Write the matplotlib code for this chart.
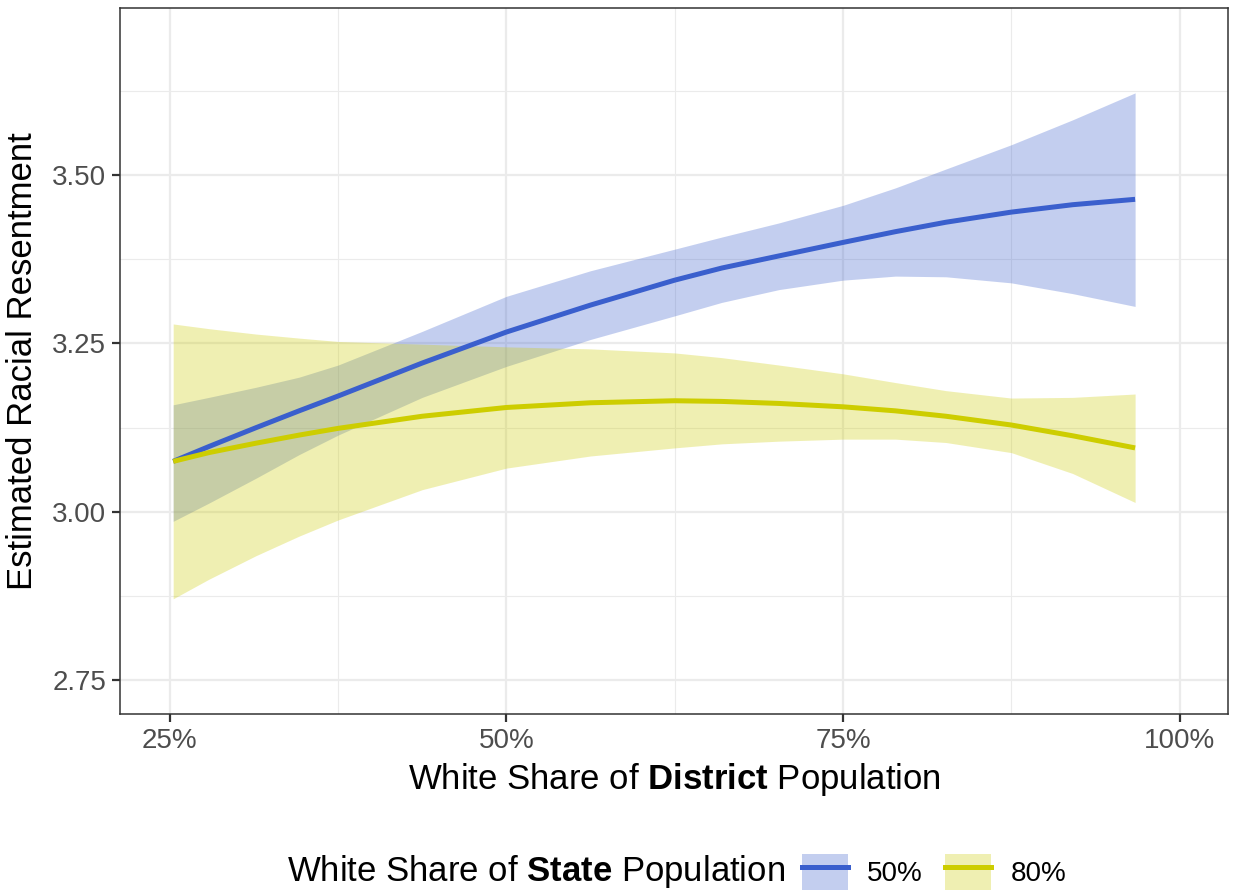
import matplotlib
matplotlib.use("Agg")
import matplotlib.pyplot as plt
from matplotlib.patches import Patch
from matplotlib.lines import Line2D
from matplotlib.ticker import MultipleLocator, PercentFormatter

plt.rcParams["font.family"] = ["Liberation Sans", "DejaVu Sans"]
plt.rcParams["mathtext.fontset"] = "custom"
plt.rcParams["mathtext.rm"] = "Liberation Sans"
plt.rcParams["mathtext.bf"] = "Liberation Sans:bold"

# white share of district population (%)
district = [25.25, 27.9, 31.4, 34.6, 37.5, 43.75, 50, 56.25, 62.5, 66,
            70.25, 75, 78.9, 82.65, 87.5, 92.06, 96.7]

# state white share 50%
fit_50 = [3.075, 3.097, 3.125, 3.150, 3.172, 3.221, 3.267, 3.307, 3.344, 3.362,
          3.380, 3.400, 3.416, 3.430, 3.445, 3.456, 3.464]
hi_50 = [3.159, 3.170, 3.185, 3.200, 3.218, 3.268, 3.320, 3.358, 3.390, 3.408,
         3.429, 3.455, 3.481, 3.509, 3.545, 3.582, 3.622]
lo_50 = [2.986, 3.013, 3.050, 3.085, 3.114, 3.170, 3.216, 3.256, 3.291, 3.311,
         3.330, 3.344, 3.350, 3.349, 3.340, 3.324, 3.305]

# state white share 80%
fit_80 = [3.075, 3.088, 3.102, 3.114, 3.124, 3.142, 3.155, 3.162, 3.165, 3.164,
          3.161, 3.156, 3.150, 3.142, 3.129, 3.113, 3.095]
hi_80 = [3.279, 3.272, 3.264, 3.258, 3.253, 3.249, 3.245, 3.242, 3.236, 3.229,
         3.218, 3.205, 3.192, 3.180, 3.169, 3.170, 3.175]
lo_80 = [2.871, 2.900, 2.935, 2.964, 2.988, 3.033, 3.065, 3.083, 3.095, 3.101,
         3.105, 3.108, 3.108, 3.103, 3.088, 3.057, 3.014]

labels = ["50%", "80%"]
colors = ["#3A5FCD", "#CDCD00"]

fig = plt.figure(figsize=(12.33, 8.92), dpi=100)
ax = fig.add_axes([120 / 1233, 1 - 714 / 892, 1108 / 1233, 706 / 892])

series = [(fit_50, lo_50, hi_50), (fit_80, lo_80, hi_80)]
for (fit, lo, hi), c in zip(series, colors):
    ax.fill_between(district, lo, hi, color=c, alpha=0.3, lw=0, zorder=2)
for (fit, lo, hi), c in zip(series, colors):
    ax.plot(district, fit, color=c, lw=3.6, solid_capstyle="butt",
            solid_joinstyle="round", zorder=3)

ax.set_xlim(21.3, 103.6)
ax.set_ylim(2.70, 3.748)
ax.xaxis.set_major_locator(MultipleLocator(25))
ax.xaxis.set_minor_locator(MultipleLocator(12.5))
ax.yaxis.set_major_locator(MultipleLocator(0.25))
ax.yaxis.set_minor_locator(MultipleLocator(0.125))
ax.xaxis.set_major_formatter(PercentFormatter(decimals=0))
ax.yaxis.set_major_formatter(lambda v, p: f"{v:.2f}")

ax.grid(which="major", color="#EBEBEB", lw=1.6, zorder=0)
ax.grid(which="minor", color="#EBEBEB", lw=0.8, zorder=0)
ax.set_axisbelow(True)
for s in ax.spines.values():
    s.set_color("#333333")
    s.set_linewidth(1.1)
ax.tick_params(which="major", length=6, width=1.6, color="#333333",
               labelsize=20, labelcolor="#4D4D4D", pad=4)
ax.tick_params(which="minor", length=0)

ax.set_xlabel(r"White Share of $\mathbf{District}$ Population", fontsize=25, labelpad=5)
ax.set_ylabel("Estimated Racial Resentment", fontsize=25, labelpad=9)

fig.text(287 / 1233, 1 - 872 / 892, r"White Share of $\mathbf{State}$ Population",
         fontsize=25, ha="left", va="center")
handles = [(Patch(facecolor=c, alpha=0.3, edgecolor="none"),
            Line2D([], [], color=c, lw=3.6)) for c in colors]
fig.legend(handles, labels, ncol=2, frameon=False, loc="center left",
           bbox_to_anchor=(802 / 1233, 1 - 872 / 892), fontsize=20,
           handlelength=1.65, handleheight=1.65, handletextpad=0.7,
           columnspacing=0.8, borderpad=0, borderaxespad=0)

fig.savefig("out.png", dpi=100)
